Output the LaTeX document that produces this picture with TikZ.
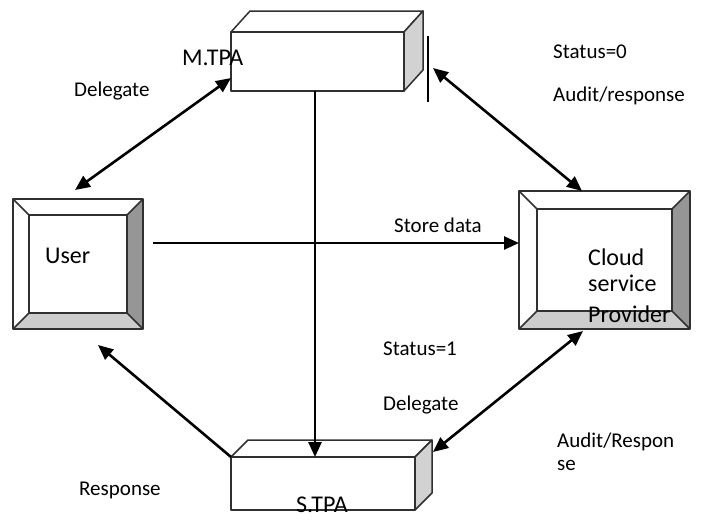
\documentclass[tikz,border=0pt]{standalone}
\usepackage{fontspec}
\setmainfont{Carlito}
\usetikzlibrary{arrows.meta,calc}

\definecolor{linegray}{HTML}{303030}
\definecolor{beveldark}{HTML}{969696}
\definecolor{bevellight}{HTML}{CDCDCD}
\definecolor{sideface}{HTML}{D2D2D2}

% Raised square panel: white frame, darker right and bottom bevels
\newcommand\bevelpanel[2]{%
  \fill[bevellight] (#1.south west) -- (#1.south east) -- ($(#1.south east)+(-#2,-#2)$) -- ($(#1.south west)+(#2,-#2)$) -- cycle;
  \fill[beveldark] (#1.north east) -- (#1.south east) -- ($(#1.south east)+(-#2,-#2)$) -- ($(#1.north east)+(-#2,#2)$) -- cycle;
  \draw[boxline] ($(#1.north west)+(#2,#2)$) rectangle ($(#1.south east)+(-#2,-#2)$);
  \draw[boxline] (#1.north west) -- ++(#2,#2) (#1.north east) -- ++(-#2,#2)
                 (#1.south west) -- ++(#2,-#2) (#1.south east) -- ++(-#2,-#2);
  \draw[boxline] (#1.north west) rectangle (#1.south east);
}

% Cuboid: top and right faces behind a front rectangle node
\newcommand\cuboid[3]{%
  \draw[boxline, fill=white] (#1.north west) -- ++(#2,-#3) -- ($(#1.north east)+(#2,-#3)$) -- (#1.north east) -- cycle;
  \draw[boxline, fill=sideface] (#1.north east) -- ++(#2,-#3) -- ($(#1.south east)+(#2,-#3)$) -- (#1.south east) -- cycle;
  \draw[boxline] (#1.north west) rectangle (#1.south east);
}

\begin{document}
\begin{tikzpicture}[x=1pt, y=-1pt,
  boxline/.style={draw=linegray, line width=1.5pt, line join=round},
  panel/.style={fill=white, inner sep=0pt, outer sep=0pt},
  edge/.style={draw=black, line width=2.6pt},
  onehead/.style={-{Triangle[length=15pt,width=13pt]}},
  twohead/.style={{Triangle[length=15pt,width=13pt]}-{Triangle[length=15pt,width=13pt]}},
  lbl/.style={anchor=base west, inner sep=0pt, font=\fontsize{21}{24}\selectfont},
  boxlbl/.style={anchor=base west, inner sep=0pt, font=\fontsize{24}{28}\selectfont}]

\useasboundingbox (0,0) rectangle (701,520);

% panels and cuboids
\node[panel, minimum width=130pt, minimum height=130pt] (user) at (78,264) {};
\bevelpanel{user}{16}
\node[panel, minimum width=171pt, minimum height=138pt] (cloud) at (604.5,260) {};
\bevelpanel{cloud}{18}
\node[panel, minimum width=173pt, minimum height=59pt] (mtpa) at (317.5,61.5) {};
\cuboid{mtpa}{19}{21}
\node[panel, minimum width=184pt, minimum height=53pt] (stpa) at (323,483.5) {};
\cuboid{stpa}{17}{17}

% box texts
\node[boxlbl] (mtpatext) at (182,65) {M.TPA};
\node[boxlbl] (usertext) at (45,263) {User};
\node[boxlbl] (cloudtext1) at (588,265) {Cloud};
\node[boxlbl] (cloudtext2) at (588,291) {service};
\node[boxlbl] (cloudtext3) at (588,322) {Provider};
\node[boxlbl, text depth=0pt] (stpatext) at (296,512.5) {S.TPA};

% connector end points
\coordinate (userTop) at (75,190);
\coordinate (mtpaLeft) at ($(mtpa.north west)+(0,46)$);
\coordinate (mtpaRight) at (433,68);
\coordinate (cloudTop) at ($(cloud.north west)+(63,0)$);
\coordinate (storeStart) at (153,243);
\coordinate (cloudBottom) at (583,331);
\coordinate (stpaRight) at (433,452);
\coordinate (userBottom) at (98,345);
\coordinate (barTop) at (428,36);
\coordinate (barBottom) at (428,102);

% connectors
\draw[edge, twohead] (userTop) -- (mtpaLeft);
\draw[edge, twohead] (mtpaRight) -- (cloudTop);
\draw[edge, onehead] (storeStart) -- (storeStart -| cloud.west);
\draw[edge, onehead] (mtpa.south -| 315,0) -- (stpa.north -| 315,0);
\draw[edge, onehead] (stpa.north west) -- (userBottom);
\draw[edge, twohead] (cloudBottom) -- (stpaRight);
\draw[black, line width=2.8pt] (barTop) -- (barBottom);

% labels
\node[lbl] (l1) at (74,96) {Delegate};
\node[lbl] (l2) at (553,58) {Status=0};
\node[lbl] (l3) at (553,101) {Audit/response};
\node[lbl] (l4) at (394,232) {Store data};
\node[lbl] (l5) at (383,355) {Status=1};
\node[lbl] (l6) at (383,410) {Delegate};
\node[lbl] (l7) at (557,447) {Audit/Respon};
\node[lbl] (l8) at (557,470) {se};
\node[lbl] (l9) at (79,495) {Response};
\end{tikzpicture}
\end{document}
